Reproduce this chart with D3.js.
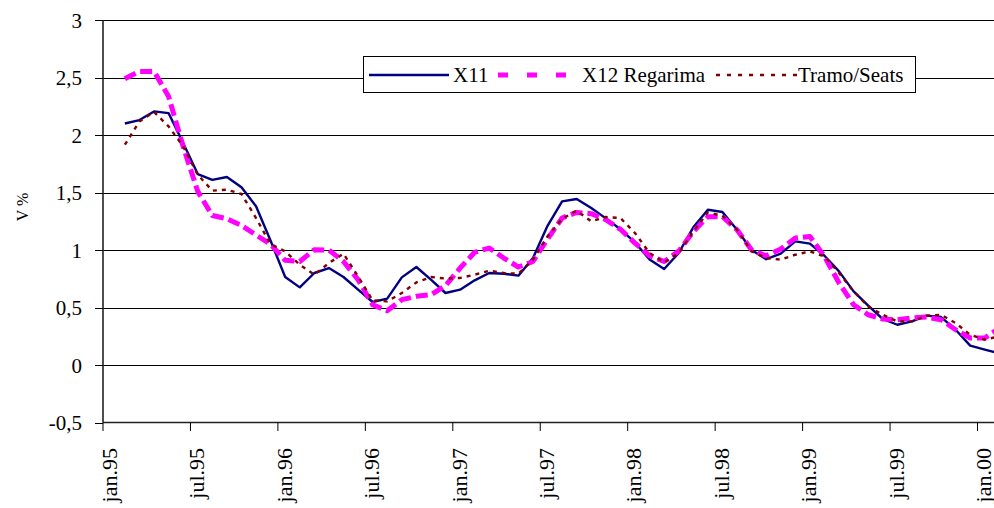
<!DOCTYPE html>
<html>
<head>
<meta charset="utf-8">
<script src="https://cdn.jsdelivr.net/npm/d3@7"></script>
<style>
  html, body { margin: 0; padding: 0; background: #fff; }
  svg { display: block; font-family: "Liberation Serif", "Times New Roman", serif; }
</style>
</head>
<body>
<svg id="chart" width="994" height="508"></svg>
<script>
// Monthly categories, jan.95 .. fev.00
const monthNames = ["jan","fev","mar","abr","mai","jun","jul","ago","set","out","nov","dez"];
const years = ["95","96","97","98","99","00"];
const months = [];
years.forEach(y => monthNames.forEach(m => months.push(m + "." + y)));
months.length = 62;

// Labelled categories on the horizontal axis
const tickLabels = ["jan.95","jul.95","jan.96","jul.96","jan.97","jul.97","jan.98","jul.98","jan.99","jul.99","jan.00"];
const yTicks = [-0.5, 0, 0.5, 1, 1.5, 2, 2.5, 3];

// V % by method (first month has no value)
const x11 = [null,
  2.10, 2.13, 2.205, 2.19, 1.93, 1.66, 1.61, 1.635, 1.545, 1.38, 1.08,
  0.765, 0.675, 0.80, 0.843, 0.765, 0.655, 0.548, 0.577, 0.762, 0.852, 0.742, 0.626,
  0.655, 0.736, 0.80, 0.794, 0.777, 0.93, 1.21, 1.423, 1.443, 1.365, 1.275, 1.18,
  1.066, 0.917, 0.835, 0.974, 1.197, 1.35, 1.33, 1.176, 1.0, 0.92, 0.968, 1.075,
  1.055, 0.95, 0.814, 0.64, 0.516, 0.40, 0.35, 0.379, 0.429, 0.417, 0.307, 0.168,
  0.133, 0.10];
const x12Regarima = [null,
  2.49, 2.553, 2.553, 2.335, 1.90, 1.51, 1.30, 1.272, 1.214, 1.13, 1.05,
  0.91, 0.90, 1.003, 1.0, 0.90, 0.742, 0.524, 0.472, 0.568, 0.597, 0.611, 0.69,
  0.843, 0.98, 1.017, 0.93, 0.852, 0.90, 1.096, 1.278, 1.327, 1.316, 1.263, 1.18,
  1.06, 0.95, 0.90, 0.99, 1.16, 1.29, 1.29, 1.176, 1.0, 0.95, 1.009, 1.104,
  1.118, 0.944, 0.713, 0.524, 0.437, 0.40, 0.394, 0.409, 0.417, 0.394, 0.307, 0.235,
  0.235, 0.32];
const tramoSeats = [null,
  1.916, 2.118, 2.20, 2.075, 1.90, 1.655, 1.516, 1.524, 1.487, 1.278, 1.05,
  0.988, 0.872, 0.785, 0.887, 0.968, 0.77, 0.562, 0.553, 0.626, 0.718, 0.765, 0.752,
  0.757, 0.785, 0.82, 0.80, 0.794, 0.916, 1.118, 1.27, 1.342, 1.249, 1.287, 1.278,
  1.148, 0.974, 0.892, 0.974, 1.16, 1.327, 1.298, 1.176, 0.988, 0.93, 0.916, 0.959,
  0.988, 0.944, 0.80, 0.64, 0.51, 0.437, 0.379, 0.379, 0.429, 0.437, 0.365, 0.263,
  0.22, 0.25];

const seriesNames = ["X11", "X12 Regarima", "Tramo/Seats"];

const svg = d3.select("#chart");
const plotLeft = 103, plotTop = 20, plotBottom = 422.5;
const step = 14.575;

const x = d3.scaleBand().domain(months).range([plotLeft, plotLeft + months.length * step]).paddingInner(0).paddingOuter(0);
const y = d3.scaleLinear().domain([-0.5, 3]).range([plotBottom, plotTop]);
const cx = m => x(m) + x.bandwidth() / 2;

// Horizontal gridlines
svg.append("g").selectAll("line")
  .data(yTicks.filter(v => v > -0.5))
  .join("line")
  .attr("x1", plotLeft).attr("x2", 994)
  .attr("y1", d => Math.round(y(d)) + 0.5).attr("y2", d => Math.round(y(d)) + 0.5)
  .attr("stroke", "#000").attr("stroke-width", 1);

// Vertical axis
const yAxis = svg.append("g");
yAxis.append("line").attr("x1", plotLeft).attr("x2", plotLeft).attr("y1", plotTop).attr("y2", plotBottom)
  .attr("stroke", "#222").attr("stroke-width", 1.6);
yAxis.selectAll("line.tick").data(yTicks).join("line").attr("class", "tick")
  .attr("x1", 95).attr("x2", plotLeft)
  .attr("y1", d => Math.round(y(d)) + 0.5).attr("y2", d => Math.round(y(d)) + 0.5)
  .attr("stroke", "#000").attr("stroke-width", 1);
yAxis.selectAll("text").data(yTicks).join("text")
  .attr("x", 82).attr("y", d => y(d)).attr("dy", "0.36em")
  .attr("text-anchor", "end").attr("font-size", 21).attr("fill", "#000")
  .text(d => String(d).replace(".", ","));

svg.append("text")
  .attr("transform", "translate(28,207) rotate(-90)")
  .attr("text-anchor", "middle").attr("font-size", 16).attr("fill", "#000")
  .text("V %");

// Horizontal axis
const xAxis = svg.append("g");
xAxis.append("line").attr("x1", plotLeft).attr("x2", 994).attr("y1", plotBottom).attr("y2", plotBottom)
  .attr("stroke", "#222").attr("stroke-width", 1.6);
xAxis.selectAll("line.tick").data(tickLabels).join("line").attr("class", "tick")
  .attr("x1", d => x(d)).attr("x2", d => x(d))
  .attr("y1", plotBottom).attr("y2", 431)
  .attr("stroke", "#000").attr("stroke-width", 1);
xAxis.selectAll("text").data(tickLabels).join("text")
  .attr("transform", d => `translate(${cx(d) - 1},448) rotate(-90)`)
  .attr("dy", "0.34em")
  .attr("text-anchor", "end").attr("font-size", 22).attr("fill", "#000")
  .text(d => d);

// Series lines
const styles = [
  { values: x11, color: "#000080", width: 2.4, dash: null, legendDash: null },
  { values: x12Regarima, color: "#FF00FF", width: 5, dash: "12,5", legendDash: "10,19" },
  { values: tramoSeats, color: "#800000", width: 2.4, dash: "4,5", legendDash: "4,7" }
];

const line = d3.line()
  .defined(d => d.v !== null)
  .x(d => cx(d.m))
  .y(d => y(d.v));

styles.forEach(s => {
  svg.append("path")
    .datum(months.map((m, i) => ({ m, v: s.values[i] })))
    .attr("d", line)
    .attr("fill", "none")
    .attr("stroke", s.color)
    .attr("stroke-width", s.width)
    .attr("stroke-dasharray", s.dash)
    .attr("stroke-linejoin", "round");
});

// Legend
const lg = svg.append("g");
lg.append("rect").attr("x", 363.5).attr("y", 56.5).attr("width", 552).attr("height", 36)
  .attr("fill", "#fff").attr("stroke", "#000").attr("stroke-width", 1);
const legendItems = [
  { x1: 369, x2: 449, tx: 453 },
  { x1: 498, x2: 570, tx: 582 },
  { x1: 716, x2: 797, tx: 798 }
];
legendItems.forEach((it, i) => {
  const s = styles[i];
  lg.append("line").attr("x1", it.x1).attr("x2", it.x2).attr("y1", 75).attr("y2", 75)
    .attr("stroke", s.color).attr("stroke-width", s.width)
    .attr("stroke-dasharray", s.legendDash);
  lg.append("text").attr("x", it.tx).attr("y", 82).attr("font-size", 21).attr("fill", "#000")
    .text(seriesNames[i]);
});
</script>
</body>
</html>
